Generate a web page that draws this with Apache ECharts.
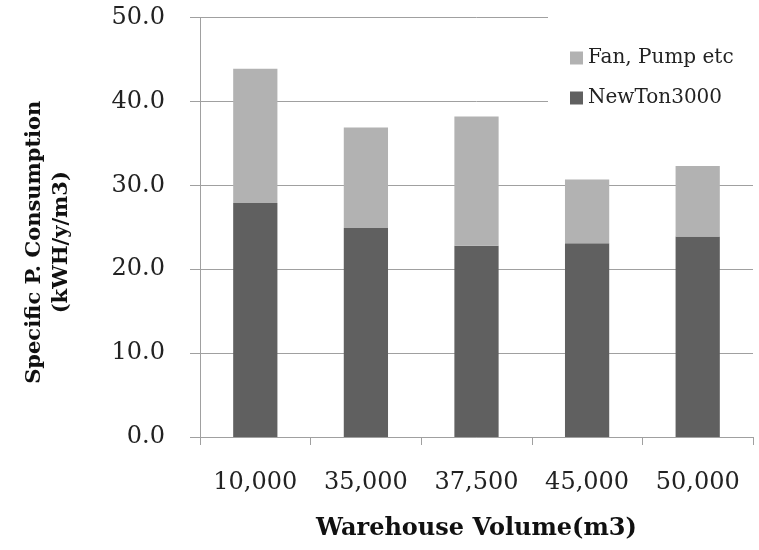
<!DOCTYPE html>
<html>
<head>
<meta charset="utf-8">
<script src="https://cdn.jsdelivr.net/npm/echarts@6/dist/echarts.min.js"></script>
<style>html,body{margin:0;padding:0;background:#fff;}#c{width:759px;height:550px;}</style>
</head>
<body>
<div id="c"></div>
<script>
var categories = ['10,000', '35,000', '37,500', '45,000', '50,000'];
var newTon = [27.9, 24.9, 22.8, 23.1, 23.9];
var fanPump = [16.0, 12.0, 15.4, 7.6, 8.4];
var yTicks = { min: 0, max: 50, interval: 10 };

var chart = echarts.init(document.getElementById('c'), null, { renderer: 'canvas' });
var serif = 'DejaVu Serif';
chart.setOption({
  animation: false,
  backgroundColor: '#fff',
  grid: { left: 200, right: 6, top: 17.5, bottom: 113, containLabel: false },
  legend: {
    orient: 'vertical',
    left: 548, top: 16,
    padding: [31, 22, 6, 22],
    backgroundColor: '#fff',
    itemWidth: 13, itemHeight: 13,
    itemGap: 18,
    icon: 'rect',
    data: ['Fan, Pump etc', 'NewTon3000'],
    textStyle: { fontFamily: serif, fontSize: 20, color: '#222', lineHeight: 22 }
  },
  xAxis: {
    type: 'category',
    data: categories,
    name: 'Warehouse Volume(m3)',
    nameLocation: 'middle',
    nameGap: 80,
    nameTextStyle: { fontFamily: serif, fontSize: 24, fontWeight: 'bold', color: '#111' },
    axisLine: { lineStyle: { color: '#a0a0a0', width: 1 } },
    axisTick: { show: true, length: 8, lineStyle: { color: '#a0a0a0' } },
    axisLabel: { fontFamily: serif, fontSize: 24, color: '#222', margin: 34 }
  },
  yAxis: {
    type: 'value',
    min: yTicks.min, max: yTicks.max, interval: yTicks.interval,
    name: 'Specific P. Consumption\n(kWH/y/m3)',
    nameLocation: 'middle',
    nameGap: 125,
    nameRotate: 90,
    nameTextStyle: { fontFamily: serif, fontSize: 21, fontWeight: 'bold', color: '#111', lineHeight: 27,
      padding: [0, 30, 0, 0] },
    axisLine: { show: true, lineStyle: { color: '#a0a0a0', width: 1 } },
    axisTick: { show: true, length: 10, lineStyle: { color: '#a0a0a0' } },
    splitLine: { show: true, lineStyle: { color: '#a0a0a0', width: 1 } },
    axisLabel: { fontFamily: serif, fontSize: 24, color: '#222', margin: 35,
      formatter: function (v) { return v.toFixed(1); } }
  },
  series: [
    { name: 'NewTon3000', type: 'bar', stack: 'total', data: newTon, barWidth: '40%',
      itemStyle: { color: '#606060' } },
    { name: 'Fan, Pump etc', type: 'bar', stack: 'total', data: fanPump, barWidth: '40%',
      itemStyle: { color: '#b2b2b2' } }
  ]
});
</script>
</body>
</html>
